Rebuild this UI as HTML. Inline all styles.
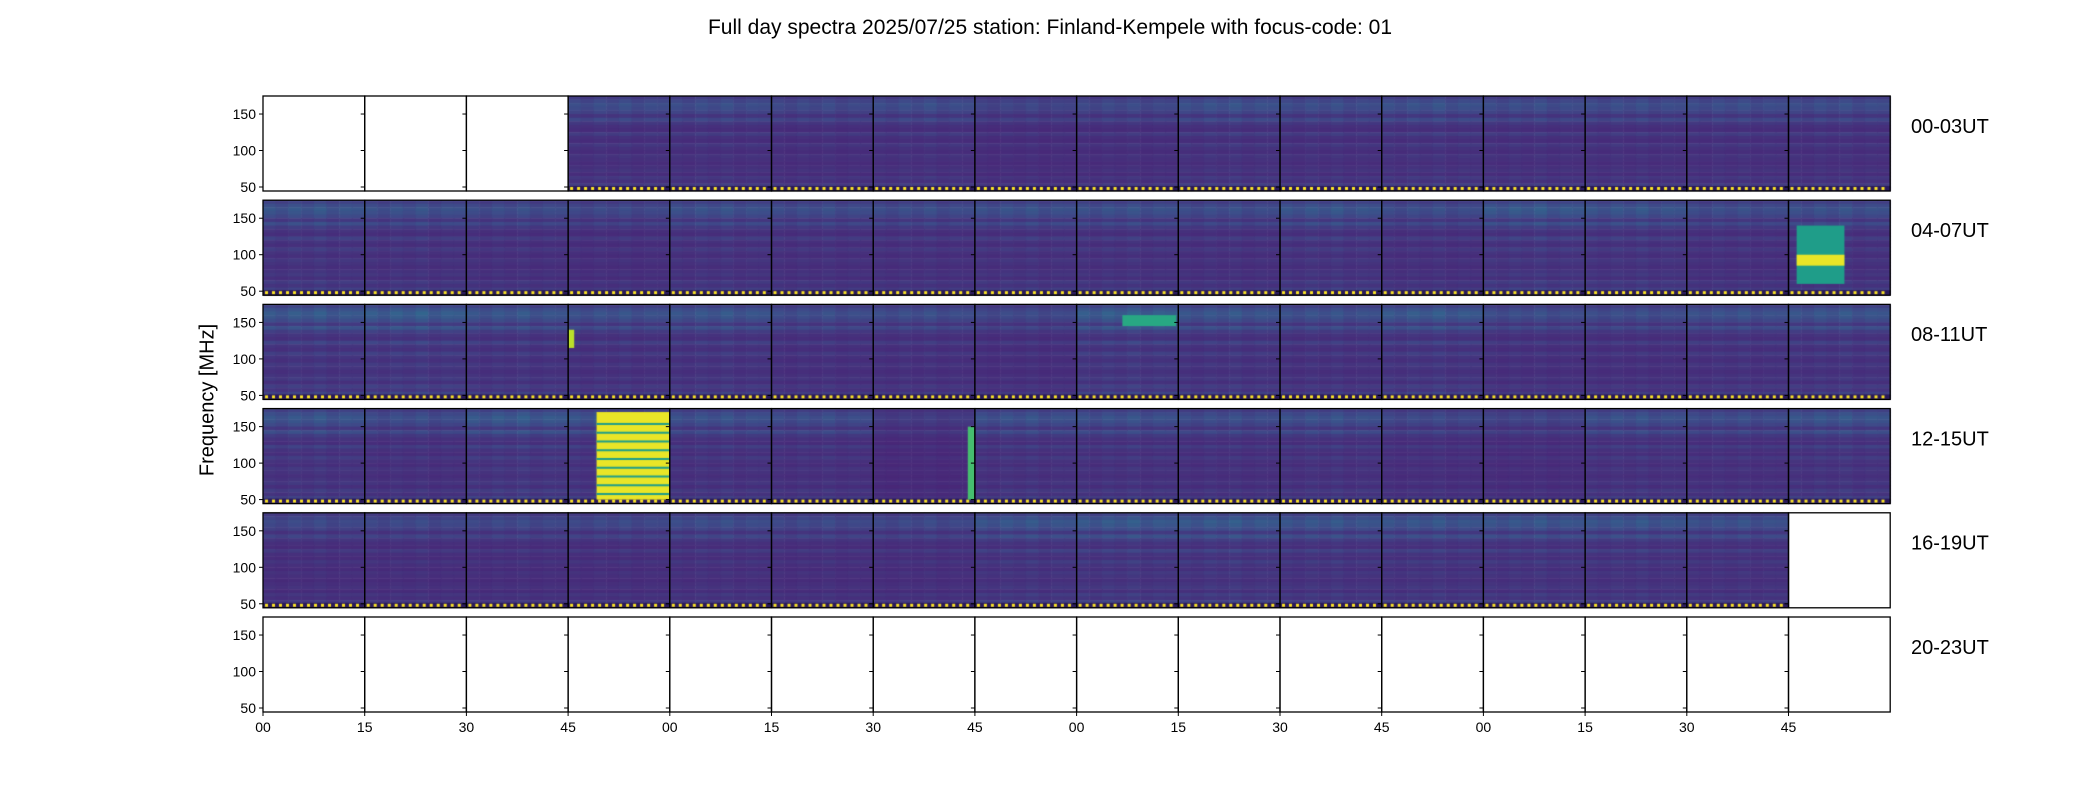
<!DOCTYPE html>
<html><head><meta charset="utf-8"><style>
body{margin:0;background:#fff;}
#wrap{position:relative;width:2100px;height:800px;overflow:hidden;font-family:"Liberation Sans","DejaVu Sans",sans-serif;}
.t{position:absolute;color:#000;white-space:nowrap;}
</style></head><body>
<div id="wrap">
<div class="t" style="left:0;width:2100px;text-align:center;top:16px;font-size:21px;">Full day spectra 2025/07/25 station: Finland-Kempele with focus-code: 01</div>
<div class="t" style="left:208px;top:400px;font-size:20px;transform:translate(-50%,-50%) rotate(-90deg);">Frequency [MHz]</div>
<canvas id="cv" width="2100" height="800" style="position:absolute;left:0;top:0"></canvas>
<svg id="ax" width="2100" height="800" style="position:absolute;left:0;top:0"></svg>
</div>
<script>
// data
const rowLabels=["00-03UT","04-07UT","08-11UT","12-15UT","16-19UT","20-23UT"];
const xTickLabels=["00","15","30","45","00","15","30","45","00","15","30","45","00","15","30","45"];
const yTicks=[50,100,150];
// frequency bands from 175 MHz down to 45 MHz (5 MHz steps)
const freqProfile=[0.35,0.5,0.6,0.55,0.45,0.25,0.5,0.3,0.2,0.15,0.35,0.2,0.15,0.3,0.2,0.15,0.25,0.2,0.15,0.2,0.25,0.15,0.3,0.2,0.35,0.2];
const colProfile=[1.0,0.85,1.05,0.9,1.1,0.85,1.0,0.95];
// panel activity (0 = no data)
const panelLevel=[
[0,0,0,0.5,0.5,0.45,0.5,0.4,0.45,0.55,0.5,0.55,0.5,0.5,0.5,0.5],
[0.6,0.55,0.5,0.45,0.55,0.5,0.5,0.55,0.55,0.5,0.6,0.5,0.65,0.6,0.5,0.55],
[0.65,0.7,0.6,0.55,0.6,0.5,0.5,0.45,0.7,0.6,0.55,0.65,0.5,0.5,0.55,0.6],
[0.6,0.5,0.65,0.6,0.55,0.5,0.3,0.55,0.55,0.5,0.55,0.45,0.4,0.55,0.5,0.6],
[0.45,0.45,0.45,0.45,0.5,0.45,0.45,0.6,0.65,0.65,0.6,0.6,0.6,0.6,0.55,0],
[0,0,0,0,0,0,0,0,0,0,0,0,0,0,0,0]];
// special bright blocks: [row,col,x0frac,x1frac,fHigh,fLow,value]
const blocks=[[3,3,0.28,1,170,50,0.97],[1,15,0.08,0.55,140,60,0.55],[1,15,0.08,0.55,100,85,0.97],[2,8,0.45,0.98,160,145,0.6],[3,6,0.93,1,150,50,0.7],[2,3,0,0.06,140,115,0.9]];

const L=263,W=101.7,T0=96,PITCH=104.2,H=95,FTOP=174.7,FBOT=44.5;
function yOf(r,f){return T0+r*PITCH+(FTOP-f)/(FTOP-FBOT)*H;}
function xOf(c,fr){return L+(c+fr)*W;}
const vir=[[68,1,84],[72,40,120],[62,74,137],[49,104,142],[38,130,142],[31,158,137],[53,183,121],[109,205,89],[180,222,44],[253,231,37]];
function cmap(v){v=Math.max(0,Math.min(1,v));const s=v*9,i=Math.min(8,Math.floor(s)),t=s-i;const a=vir[i],b=vir[i+1];return `rgb(${a.map((x,k)=>Math.round(x+(b[k]-x)*t)).join(',')})`;}

const ctx=document.getElementById('cv').getContext('2d');
for(let r=0;r<6;r++)for(let c=0;c<16;c++){
  const lv=panelLevel[r][c]; if(!lv)continue;
  const nc=colProfile.length,nf=freqProfile.length;
  for(let i=0;i<nc;i++)for(let j=0;j<nf;j++){
    const fHi=175-j*5,fLo=fHi-5;
    const v=0.09+freqProfile[j]*lv*colProfile[i]*0.5;
    ctx.fillStyle=cmap(v);
    const x0=xOf(c,i/nc),x1=xOf(c,(i+1)/nc),y0=Math.max(yOf(r,fHi),T0+r*PITCH),y1=yOf(r,Math.max(fLo,FBOT));
    ctx.fillRect(x0,y0,x1-x0+0.5,y1-y0+0.5);
  }
  const yb=T0+r*PITCH+H-5;
  ctx.fillStyle='#2a1a5a';ctx.fillRect(xOf(c,0),yb,W,5);
  ctx.fillStyle='#fde725';
  for(let x=xOf(c,0)+2;x<xOf(c,1)-2;x+=7)ctx.fillRect(x,yb+1,3,3);
}
blocks.forEach(b=>{const[r,c,a0,a1,fh,fl,v]=b;ctx.fillStyle=cmap(v);
  const x0=xOf(c,a0),x1=xOf(c,a1),y0=yOf(r,fh),y1=yOf(r,fl);ctx.fillRect(x0,y0,x1-x0,y1-y0);
  if(v>0.9){ctx.fillStyle=cmap(0.55);for(let f=fh-15;f>fl;f-=12)ctx.fillRect(x0,yOf(r,f),x1-x0,2);}
});

const svg=document.getElementById('ax');const NS='http://www.w3.org/2000/svg';
function mk(tag,attrs,name){const e=document.createElementNS(NS,tag);for(const k in attrs)e.setAttribute(k,attrs[k]);
  
  
  svg.appendChild(e);return e;}
for(let r=0;r<6;r++){
  const top=T0+r*PITCH;
  for(let c=0;c<16;c++){
    mk('rect',{x:xOf(c,0),y:top,width:W,height:H,fill:'none',stroke:'#000','stroke-width':1.3},'panel-frame');
    yTicks.forEach(f=>{const y=yOf(r,f);mk('line',{x1:xOf(c,0)-4,x2:xOf(c,0),y1:y,y2:y,stroke:'#000','stroke-width':1},'y-tick');});
  }
  yTicks.forEach(f=>{const t=mk('text',{x:L-7,y:yOf(r,f)+5,'text-anchor':'end','font-size':14,'font-family':'Liberation Sans, sans-serif'},'y-tick-label');t.textContent=f;});
  const rl=mk('text',{x:1911,y:top+H/4+13,'font-size':20,'font-family':'Liberation Sans, sans-serif'},'row-label');rl.textContent=rowLabels[r];
}
xTickLabels.forEach((s,i)=>{const x=xOf(i,0);const yb=T0+5*PITCH+H;
  mk('line',{x1:x,x2:x,y1:yb,y2:yb+4,stroke:'#000'},'x-tick');
  const t=mk('text',{x:x,y:yb+20,'text-anchor':'middle','font-size':14,'font-family':'Liberation Sans, sans-serif'},'x-tick-label');t.textContent=s;});
</script>
</body></html>
